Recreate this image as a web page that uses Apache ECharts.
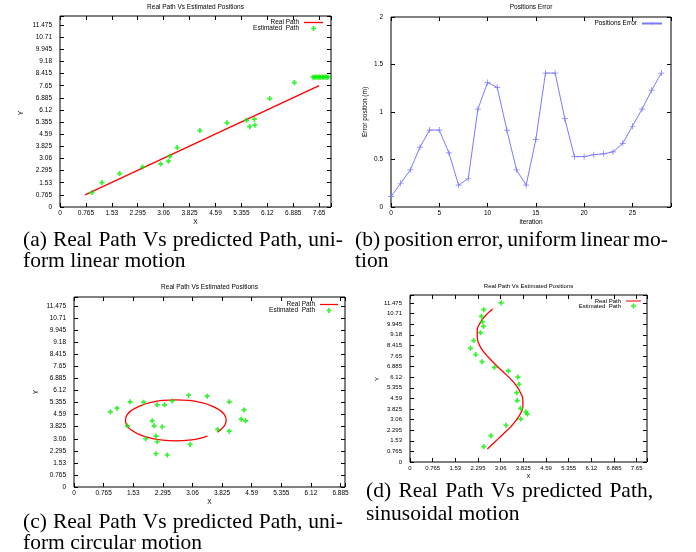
<!DOCTYPE html>
<html><head><meta charset="utf-8">
<script src="https://cdn.jsdelivr.net/npm/echarts@6/dist/echarts.min.js"></script>
<style>html,body{margin:0;padding:0;background:#fff}#c{width:696px;height:552px}</style>
</head><body><div id="c"></div>
<script>
// ---------- tick labels ----------
const pathTickLabels = ['0','0.765','1.53','2.295','3.06','3.825','4.59','5.355','6.12','6.885','7.65','8.415','9.18','9.945','10.71','11.475'];
const errXTickLabels = ['0','5','10','15','20','25'];
const errYTickLabels = ['0','0.5','1','1.5','2'];

// ---------- (a) uniform linear motion ----------
const realA_x = [0.74, 7.65];
const realA_y = [0.77, 7.66];
const estA_x = [0.94, 1.24, 1.76, 2.44, 2.97, 3.20, 3.24, 3.46, 4.13, 4.93, 5.51, 5.60, 5.74, 5.75, 6.19, 6.92, 7.47, 7.52, 7.56, 7.61, 7.65, 7.69, 7.74, 7.78, 7.83, 7.87, 7.91];
const estA_y = [0.91, 1.54, 2.11, 2.53, 2.72, 2.89, 3.20, 3.75, 4.82, 5.31, 5.47, 5.07, 5.54, 5.16, 6.84, 7.85, 8.19, 8.19, 8.20, 8.19, 8.20, 8.19, 8.20, 8.19, 8.20, 8.19, 8.19];

// ---------- (b) position error ----------
const iterations = [0,1,2,3,4,5,6,7,8,9,10,11,12,13,14,15,16,17,18,19,20,21,22,23,24,25,26,27,28];
const positionError = [0.11,0.25,0.39,0.63,0.81,0.81,0.57,0.23,0.30,1.03,1.31,1.26,0.81,0.39,0.23,0.71,1.41,1.41,0.93,0.53,0.53,0.55,0.56,0.58,0.67,0.85,1.03,1.23,1.41];

// ---------- (c) uniform circular motion ----------
const realC_x = [3.70, 3.89, 3.93, 3.89, 3.76, 3.55, 3.28, 2.97, 2.63, 2.29, 1.98, 1.71, 1.50, 1.37, 1.33, 1.37, 1.50, 1.71, 1.98, 2.29, 2.63, 2.97, 3.28, 3.45];
const realC_y = [3.48, 3.89, 4.23, 4.57, 4.88, 5.15, 5.36, 5.49, 5.53, 5.49, 5.36, 5.15, 4.88, 4.57, 4.23, 3.89, 3.58, 3.31, 3.10, 2.97, 2.93, 2.97, 3.10, 3.22];
const estC_x = [0.94, 1.11, 1.45, 1.38, 1.80, 1.85, 2.02, 2.07, 2.15, 2.12, 2.15, 2.12, 2.28, 2.34, 2.41, 2.54, 2.96, 3.00, 3.44, 3.71, 4.01, 4.01, 4.32, 4.39, 4.43];
const estC_y = [4.77, 5.00, 5.40, 3.88, 5.38, 3.06, 4.20, 3.88, 5.21, 3.23, 2.87, 2.11, 3.82, 5.21, 2.03, 5.46, 5.82, 2.70, 5.76, 3.65, 5.40, 3.54, 4.30, 4.89, 4.20];

// ---------- (d) sinusoidal motion ----------
const realD_x = [2.61, 2.89, 3.14, 3.38, 3.58, 3.73, 3.81, 3.81, 3.73, 3.59, 3.39, 3.15, 2.90, 2.67, 2.47, 2.33, 2.27, 2.27, 2.36, 2.52, 2.79];
const realD_y = [0.94, 1.5, 2.0, 2.5, 3.0, 3.5, 4.0, 4.5, 5.0, 5.5, 6.0, 6.5, 7.0, 7.5, 8.0, 8.5, 9.0, 9.5, 10.0, 10.5, 11.04];
const estD_x = [3.08, 2.49, 2.41, 2.44, 2.48, 2.38, 2.15, 2.04, 2.22, 2.43, 2.85, 3.32, 3.64, 3.68, 3.60, 3.62, 3.73, 3.91, 3.96, 3.74, 3.24, 2.73, 2.49];
const estD_y = [11.475, 10.99, 10.51, 10.13, 9.79, 9.33, 8.76, 8.20, 7.75, 7.24, 6.83, 6.57, 6.13, 5.61, 5.00, 4.43, 3.87, 3.61, 3.46, 3.10, 2.65, 1.90, 1.11];

// ---------- captions ----------
const captionA = ['(a) Real Path Vs predicted Path, uni-', 'form linear motion'];
const captionB = ['(b) position error, uniform linear mo-', 'tion'];
const captionC = ['(c) Real Path Vs predicted Path, uni-', 'form circular motion'];
const captionD = ['(d) Real Path Vs predicted Path,', 'sinusoidal motion'];

// ---------- helpers ----------
const zip = (xs, ys) => xs.map((x, i) => [x, ys[i]]);
const SANS = 'Liberation Sans';
const SERIF = 'Liberation Serif';
const plusFat = 'path://M3.3,0H6.7V3.3H10V6.7H6.7V10H3.3V6.7H0V3.3H3.3Z';
const plusThin = 'path://M4.4,0H5.6V4.4H10V5.6H5.6V10H4.4V5.6H0V4.4H4.4Z';
const lineIcon = 'path://M0,0H20V1.4H0Z';
const fmt = (step, labels) => v => {
  const i = Math.round(v / step);
  return (Math.abs(v - i * step) < 1e-6 && i >= 0 && i < labels.length) ? labels[i] : '';
};

const grids = [
  {left: 60, top: 16, width: 271, height: 191},
  {left: 391, top: 17, width: 280, height: 190},
  {left: 74, top: 297, width: 271, height: 190},
  {left: 410, top: 295, width: 237, height: 167}
].map(g => Object.assign(g, {show: true, borderColor: '#000', borderWidth: 1, backgroundColor: 'transparent', containLabel: false}));

const axisSpecs = [
  {x: [0, 8, 0.765, pathTickLabels], y: [0, 12.05, 0.765, pathTickLabels], fs: 6.5},
  {x: [0, 29, 5, errXTickLabels], y: [0, 2, 0.5, errYTickLabels], fs: 6.5},
  {x: [0, 7, 0.765, pathTickLabels], y: [0, 12.05, 0.765, pathTickLabels], fs: 6.5},
  {x: [0, 8, 0.765, pathTickLabels], y: [0, 12.05, 0.765, pathTickLabels], fs: 6}
];
const xAxes = [], yAxes = [];
axisSpecs.forEach((s, g) => {
  const base = (r, pos, show, isX) => ({
    type: 'value', gridIndex: g, min: r[0], max: r[1], interval: r[2], position: pos,
    axisLine: {show: false, onZero: false},
    axisTick: {show: true, inside: true, length: 4, lineStyle: {color: '#000', width: 1}},
    splitLine: {show: false},
    axisLabel: {show: show, margin: isX ? 3 : 8, fontSize: s.fs, color: '#000', fontFamily: SANS, formatter: fmt(r[2], r[3])}
  });
  xAxes.push(base(s.x, 'bottom', true, true));
  xAxes.push(base(s.x, 'top', false, true));
  yAxes.push(base(s.y, 'left', true, false));
  yAxes.push(base(s.y, 'right', false, false));
});

const RED = '#ff0000', GREEN = '#00f000', BLUE = '#7a7aff';
const realSeries = (g, data, smooth) => ({
  name: 'Real Path', type: 'line', xAxisIndex: 2 * g, yAxisIndex: 2 * g, data: data,
  symbol: 'none', smooth: smooth, lineStyle: {color: RED, width: 1.3}, itemStyle: {color: RED}, z: 3
});
const estSeries = (g, data) => ({
  name: 'Estimated  Path', type: 'scatter', xAxisIndex: 2 * g, yAxisIndex: 2 * g, data: data,
  symbol: plusFat, symbolSize: 5, itemStyle: {color: GREEN}, z: 4
});

const series = [
  realSeries(0, zip(realA_x, realA_y), false),
  estSeries(0, zip(estA_x, estA_y)),
  {name: 'Positions Error', type: 'line', xAxisIndex: 2, yAxisIndex: 2, data: zip(iterations, positionError),
   symbol: plusThin, symbolSize: 6, showSymbol: true, lineStyle: {color: BLUE, width: 1}, itemStyle: {color: BLUE}},
  realSeries(2, zip(realC_x, realC_y), true),
  estSeries(2, zip(estC_x, estC_y)),
  realSeries(3, zip(realD_x, realD_y), true),
  estSeries(3, zip(estD_x, estD_y))
];

const pathLegendData = [{name: 'Real Path', icon: lineIcon}, {name: 'Estimated  Path'}];
const legendBase = (right, top, data, w, fs) => ({
  orient: 'vertical', align: 'right', right: right, top: top, data: data, padding: 0,
  itemWidth: w, itemHeight: 5, itemGap: -1, selectedMode: false,
  textStyle: {fontSize: fs, color: '#000', fontFamily: SANS}
});
const legends = [
  legendBase(373, 19, pathLegendData, 19, 6.5),
  legendBase(33, 20, ['Positions Error'], 20, 6.5),
  legendBase(358, 301, pathLegendData, 18, 6.5),
  legendBase(55, 298, pathLegendData, 15, 6)
];

const txt = (text, x, y, size, family, opts) => Object.assign({
  type: 'text', x: x, y: y, silent: true,
  style: {text: text, font: size + 'px "' + family + '"', fill: '#000', align: 'center', verticalAlign: 'middle'}
}, opts || {});

// justified caption line: words spread between x0 and x1
const capSize = 21.5;
const capFont = capSize + 'px "' + SERIF + '"';
const measureCtx = document.createElement('canvas').getContext('2d');
measureCtx.font = capFont;
function captionLine(text, x0, y, x1) {
  if (x1 === undefined) {
    const t = txt(text, x0, y, capSize, SERIF); t.style.align = 'left'; return [t];
  }
  const words = text.split(' ');
  const widths = words.map(w => measureCtx.measureText(w).width);
  const total = widths.reduce((a, b) => a + b, 0);
  const gap = (x1 - x0 - total) / (words.length - 1);
  let x = x0;
  return words.map((w, i) => {
    const t = txt(w, x, y, capSize, SERIF); t.style.align = 'left';
    x += widths[i] + gap; return t;
  });
}

const graphics = [
  txt('Real Path Vs Estimated Positions', 195.5, 7.5, 6.5, SANS),
  txt('Positions Error', 531, 7.5, 6.5, SANS),
  txt('Real Path Vs Estimated Positions', 209.5, 287, 6.5, SANS),
  txt('Real Path Vs Estimated Positions', 528.5, 286.5, 6, SANS),
  txt('X', 195.5, 222.5, 6.5, SANS),
  txt('iteration', 531, 222, 6.5, SANS),
  txt('X', 209.5, 502.5, 6.5, SANS),
  txt('X', 528.5, 476, 6, SANS),
  txt('Y', 21, 113, 6.5, SANS, {rotation: Math.PI / 2}),
  txt('Error position (m)', 365, 112, 6.5, SANS, {rotation: Math.PI / 2}),
  txt('Y', 36, 392, 6.5, SANS, {rotation: Math.PI / 2}),
  txt('Y', 377, 379, 6, SANS, {rotation: Math.PI / 2})
].concat(
  captionLine(captionA[0], 23, 240, 343),
  captionLine(captionA[1], 23, 261),
  captionLine(captionB[0], 355, 240, 668),
  captionLine(captionB[1], 355, 261),
  captionLine(captionC[0], 23, 522, 343),
  captionLine(captionC[1], 23, 543),
  captionLine(captionD[0], 366, 491.5, 653),
  captionLine(captionD[1], 366, 514.5)
);

const chart = echarts.init(document.getElementById('c'), null, {renderer: 'canvas'});
chart.setOption({
  animation: false,
  backgroundColor: '#fff',
  grid: grids,
  xAxis: xAxes,
  yAxis: yAxes,
  legend: legends,
  series: series,
  graphic: graphics
});
</script>
</body></html>
